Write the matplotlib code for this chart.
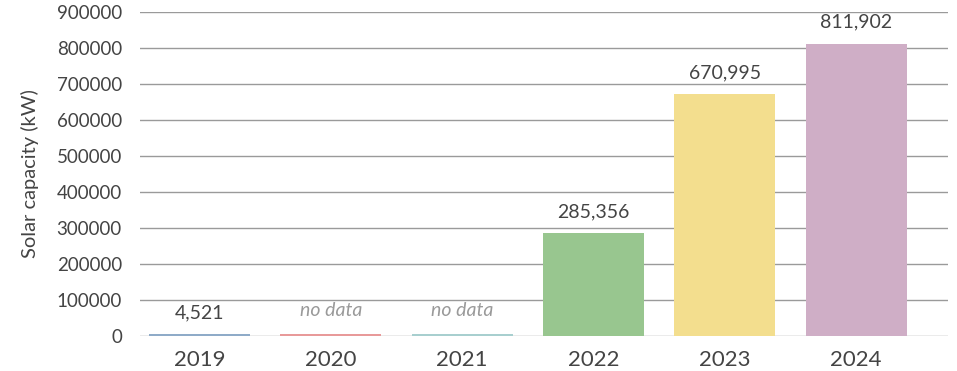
import matplotlib.pyplot as plt

# data
years = ["2019", "2020", "2021", "2022", "2023", "2024"]
capacity = [4521, None, None, 285356, 670995, 811902]
colors = ["#8fabc8", "#e89a9a", "#a8cfcf", "#98c68f", "#f3de8e", "#cfaec6"]
yticks = [0, 100000, 200000, 300000, 400000, 500000, 600000, 700000, 800000, 900000]
placeholder = 5000  # thin stub drawn where there is no data

plt.rcParams['font.family'] = ['Lato', 'DejaVu Sans']

fig = plt.figure(figsize=(9.57, 3.71), dpi=100)
ax = fig.add_axes([0.1463, 0.0943, 0.8443, 0.8734])

x = list(range(len(years)))
heights = [v if v is not None else placeholder for v in capacity]
ax.bar(x, heights, width=0.77, color=colors, zorder=3)

for i, v in enumerate(capacity):
    if v is None:
        ax.text(i, placeholder + 65000, "no data", ha="center", va="center",
                fontsize=14, style="italic", color="#9a9a9a", zorder=4)
    else:
        ax.text(i, v + 60000, f"{v:,}", ha="center", va="center",
                fontsize=14, color="#444444", zorder=4)

ax.set_xlim(-0.453, 5.70)
ax.set_ylim(0, 900000)
ax.set_yticks(yticks)
ax.set_yticklabels([str(t) for t in yticks])
ax.set_xticks(x)
ax.set_xticklabels(years)
ax.grid(axis="y", color="#9a9a9a", linewidth=1, zorder=0)
ax.set_axisbelow(True)
for s in ["left", "right", "top", "bottom"]:
    ax.spines[s].set_visible(False)
ax.tick_params(axis="both", length=0, labelcolor="#444444")
ax.tick_params(axis="y", labelsize=13.5, pad=13)
ax.tick_params(axis="x", labelsize=16, pad=10)
ax.set_ylabel("Solar capacity (kW)", fontsize=14.5, color="#444444", labelpad=13)

fig.savefig("out.png", dpi=100)
